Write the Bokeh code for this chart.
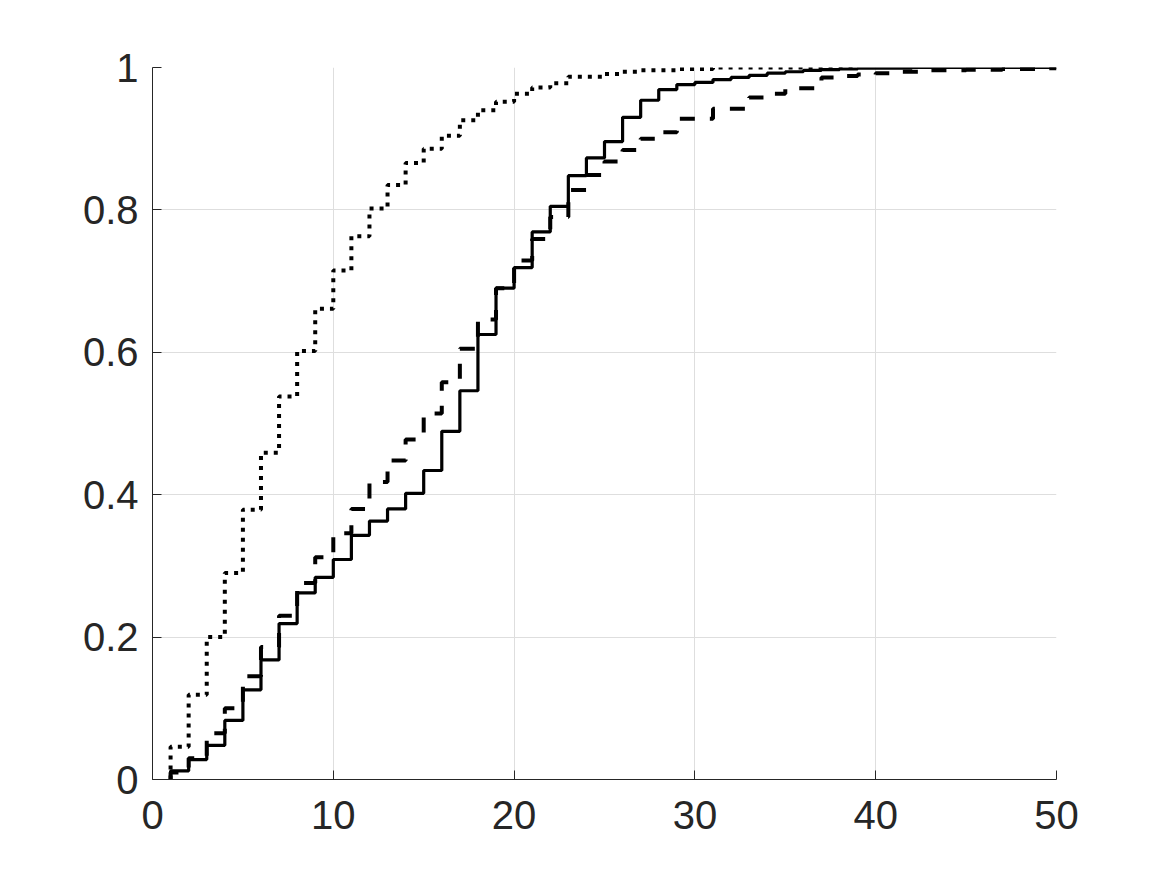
from bokeh.plotting import figure
from bokeh.models import Range1d, FixedTicker, CustomJSTickFormatter
from bokeh.embed import file_html
from bokeh.resources import INLINE

# Empirical CDF steps: jump positions and CDF value after each jump
solid_x = [1, 1, 2, 3, 4, 5, 6, 7, 8, 9, 10, 11, 12, 13, 14, 15, 16, 17, 18, 19, 20,
           21, 22, 23, 24, 25, 26, 27, 28, 29, 30, 31, 32, 33, 34, 35, 36, 37, 38, 39, 42, 50]
solid_y = [0.0, 0.012, 0.028, 0.048, 0.083, 0.126, 0.168, 0.219, 0.262, 0.284, 0.309,
           0.343, 0.363, 0.380, 0.402, 0.434, 0.489, 0.546, 0.625, 0.690, 0.719,
           0.769, 0.805, 0.848, 0.873, 0.896, 0.930, 0.954, 0.969, 0.976, 0.979,
           0.983, 0.986, 0.989, 0.992, 0.994, 0.996, 0.997, 0.998, 0.999, 1.0, 1.0]

dashed_x = [1, 1, 2, 3, 4, 5, 6, 7, 8, 9, 10, 11, 12, 13, 14, 15, 16, 17, 18, 19, 20,
            21, 22, 23, 24, 25, 26, 27, 28, 29, 31, 33, 34, 35, 37, 38, 39, 40, 41, 43,
            45, 47, 49, 50]
dashed_y = [0.0, 0.010, 0.030, 0.065, 0.100, 0.145, 0.186, 0.230, 0.276, 0.312, 0.346,
            0.380, 0.418, 0.448, 0.4775, 0.514, 0.558, 0.605, 0.646, 0.690, 0.729,
            0.759, 0.790, 0.828, 0.849, 0.868, 0.884, 0.900, 0.909, 0.928, 0.942,
            0.958, 0.963, 0.971, 0.986, 0.988, 0.990, 0.992, 0.994, 0.996, 0.997,
            0.998, 0.999, 0.999]

dotted_x = [1, 1, 2, 3, 4, 5, 6, 7, 8, 9, 10, 11, 12, 13, 14, 15, 16, 17, 18, 19, 20,
            21, 22, 23, 25, 26, 27, 29, 31, 39]
dotted_y = [0.0, 0.046, 0.119, 0.200, 0.290, 0.379, 0.459, 0.538, 0.602, 0.661, 0.715,
            0.763, 0.802, 0.835, 0.866, 0.886, 0.904, 0.926, 0.940, 0.952, 0.963,
            0.972, 0.978, 0.987, 0.991, 0.994, 0.996, 0.998, 1.0, 1.0]

x_ticks = [0, 10, 20, 30, 40, 50]
y_ticks = [0, 0.2, 0.4, 0.6, 0.8, 1]

FONT = "Liberation Sans"
DARK = "#262626"

p = figure(width=1167, height=875, output_backend="svg", toolbar_location=None,
           x_range=Range1d(0, 50), y_range=Range1d(0, 1))
p.min_border_left = 152
p.min_border_right = 111
p.min_border_top = 67
p.min_border_bottom = 96
p.outline_line_color = None
p.background_fill_color = "white"
p.border_fill_color = "white"

for ax, ticks in ((p.xaxis[0], x_ticks), (p.yaxis[0], y_ticks)):
    ax.ticker = FixedTicker(ticks=ticks)
    ax.formatter = CustomJSTickFormatter(code="return String(Math.round(tick*10)/10);")
    ax.axis_line_color = DARK
    ax.axis_line_width = 1
    ax.major_tick_line_color = DARK
    ax.major_tick_in = 9
    ax.major_tick_out = 0
    ax.minor_tick_line_color = None
    ax.major_label_text_font = FONT
    ax.major_label_text_font_size = "40px"
    ax.major_label_text_color = DARK

p.xaxis.major_label_standoff = 21
p.yaxis.major_label_standoff = 14

p.xgrid.ticker = FixedTicker(ticks=x_ticks)
p.ygrid.ticker = FixedTicker(ticks=y_ticks)
for g in (p.xgrid[0], p.ygrid[0]):
    g.grid_line_color = "#dedede"
    g.grid_line_width = 1

p.step(dotted_x, dotted_y, mode="after", line_color="black", line_width=4, line_dash="4 6")
p.step(dashed_x, dashed_y, mode="after", line_color="black", line_width=4, line_dash="15 15")
p.step(solid_x, solid_y, mode="after", line_color="black", line_width=3.2)

open("out.html", "w").write(file_html(p, INLINE))
